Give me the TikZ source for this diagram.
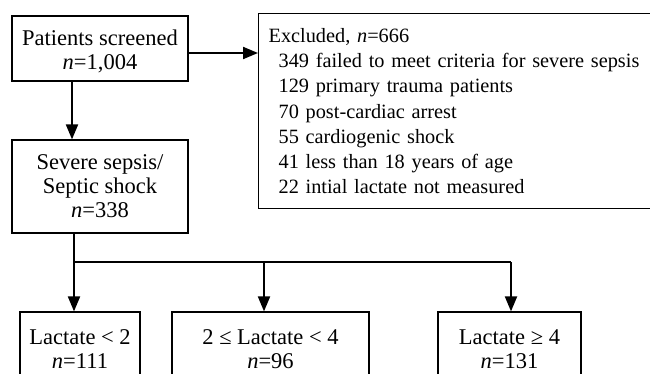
\documentclass[tikz,border=0pt]{standalone}
\usepackage{fontspec}
\setmainfont{Liberation Serif}
\usetikzlibrary{arrows.meta}
\begin{document}
\begin{tikzpicture}[x=1pt,y=-1pt,
  box/.style={draw=black,line width=1.2pt,align=center,inner sep=0pt,
    font=\fontsize{22.5}{24}\selectfont},
  exbox/.style={draw=black,line width=1.2pt,align=left,inner xsep=10pt,inner ysep=0pt,
    font=\fontsize{20.3}{25.3}\selectfont,anchor=north west},
  conn/.style={line width=2pt},
  arr/.style={line width=2pt,-{Triangle[length=15pt,width=12pt]}}]
\useasboundingbox (0,0) rectangle (650,374);
\clip (0,0) rectangle (650,374);
\fill[white] (0,0) rectangle (650,374);
\node[box,minimum width=176pt,minimum height=65pt] (b1) at (100,48.5)
  {\rule{0pt}{0pt}\\[-3.5pt]Patients screened\\\textit{n}=1,004};
\node[exbox,minimum width=400pt,minimum height=195pt,text width=380pt] (ex) at (258,13)
  {Excluded, \textit{n}=666\\
   \hspace*{10pt}349 failed to meet criteria for severe sepsis\\
   \hspace*{10pt}129 primary trauma patients\\
   \hspace*{10pt}70 post-cardiac arrest\\
   \hspace*{10pt}55 cardiogenic shock\\
   \hspace*{10pt}41 less than 18 years of age\\
   \hspace*{10pt}22 intial lactate not measured};
\node[box,minimum width=176pt,minimum height=93pt] (b2) at (100,186.5)
  {Severe sepsis/\\Septic shock\\\textit{n}=338};
\node[box,minimum width=120pt,minimum height=74pt] (la) at (80,349)
  {Lactate < 2\\\textit{n}=111};
\node[box,minimum width=197pt,minimum height=74pt] (lb) at (270.5,349)
  {2 ≤ Lactate < 4\\\textit{n}=96};
\node[box,minimum width=143pt,minimum height=74pt] (lc) at (509.5,349)
  {Lactate ≥ 4\\\textit{n}=131};
\draw[arr] ([yshift=-4.5pt]b1.east) -- ([yshift=-4.5pt]b1.east -| ex.west);
\draw[arr] ([xshift=-28pt]b1.south) -- ([xshift=-28pt]b2.north);
\coordinate (j1) at (74,262);
\coordinate (j2) at (264,262);
\coordinate (j3) at (511,262);
\draw[conn] ([xshift=-26pt]b2.south) -- (j1) -- (j3);
\draw[arr] (j1) -- (j1 |- la.north);
\draw[arr] (j2) -- (j2 |- lb.north);
\draw[arr] (j3) -- (j3 |- lc.north);
\end{tikzpicture}
\end{document}
